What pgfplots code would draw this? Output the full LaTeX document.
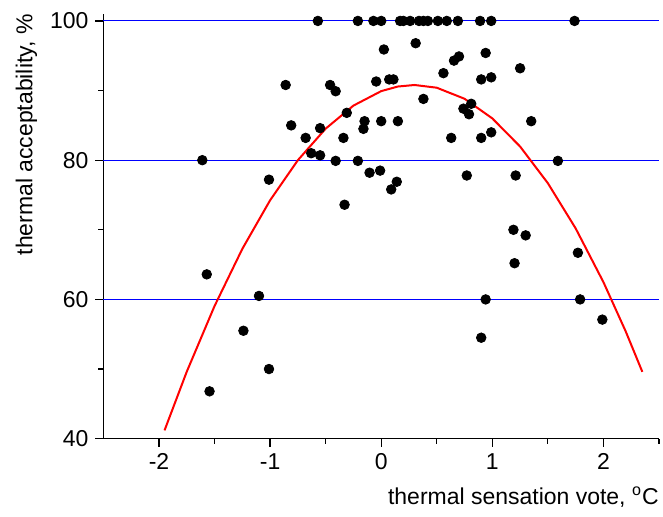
\documentclass[border=0pt]{standalone}
\usepackage{fontspec}
\setmainfont{Liberation Sans}
\usepackage{pgfplots}
\pgfplotsset{compat=1.18}
\begin{document}
\begin{tikzpicture}
\begin{axis}[
  scale only axis, width=278pt, height=212.5pt,
  xmin=-2.5, xmax=2.5, ymin=40, ymax=101,
  axis lines=left, axis line style={-, line width=0.6pt},
  xtick={-2,-1,0,1,2}, xticklabels={-2,-1,0,1,2},
  minor xtick={-1.5,-0.5,0.5,1.5,2.5},
  ytick={40}, yticklabels={40},
  extra y ticks={60,80,100}, extra y tick labels={60,80,100},
  extra y tick style={grid=major},
  minor ytick={50,70,90},
  tick align=outside, major tick length=4pt, minor tick length=2.5pt,
  tick style={black, line width=0.6pt},
  grid style={blue, line width=0.5pt},
  tick label style={font=\fontsize{11.5}{14}\selectfont},
  label style={font=\fontsize{11.5}{14}\selectfont},
  /pgf/number format/assume math mode=true,
  xlabel={thermal sensation vote, \textsuperscript{o}C},
  xlabel style={at={([yshift=-24pt]rel axis cs:1,0)}, anchor=north east, inner sep=0pt},
  ylabel={thermal acceptability, \%},
  ylabel style={at={([xshift=-33pt]rel axis cs:0,1)}, anchor=south east, inner sep=0pt},
]
\addplot[red, line width=1pt] coordinates {
(-1.95,41.19) (-1.75,49.62) (-1.5,59.05) (-1.25,67.26) (-1.0,74.24)
(-0.75,80.0) (-0.5,84.53) (-0.25,87.84) (0,89.92) (0.15,90.58)
(0.3,90.8) (0.5,90.41) (0.75,88.82) (1.0,86.0) (1.25,81.96)
(1.5,76.69) (1.75,70.2) (2.0,62.48) (2.2,55.42) (2.35,49.6)
};
\addplot[only marks, mark=*, mark size=2.4pt, black] coordinates {
(-1.61,80.0) (-1.57,63.6) (-1.545,46.8) (-1.24,55.5) (-1.10,60.5)
(-1.01,50.0) (-1.01,77.2) (-0.86,90.8) (-0.81,85.0) (-0.68,83.2)
(-0.63,81.0) (-0.55,80.7) (-0.55,84.6) (-0.57,100) (-0.46,90.8)
(-0.41,89.9) (-0.41,79.9) (-0.33,73.6) (-0.34,83.2) (-0.31,86.8)
(-0.21,79.9) (-0.21,100) (-0.16,84.5) (-0.15,85.6) (-0.105,78.2)
(-0.07,100) (-0.045,91.3) (0.0,100) (-0.01,78.5) (0.0,85.6)
(0.024,95.9) (0.072,91.6) (0.11,91.6) (0.09,75.8) (0.14,76.9)
(0.15,85.6) (0.17,100) (0.20,100) (0.26,100) (0.34,100)
(0.38,100) (0.42,100) (0.51,100) (0.59,100) (0.69,100)
(0.89,100) (0.99,100) (1.74,100) (0.31,96.8) (0.38,88.8)
(0.56,92.5) (0.655,94.3) (0.70,94.9) (0.94,95.4) (1.25,93.2)
(0.90,91.6) (0.99,91.9) (0.81,88.1) (0.74,87.4) (0.79,86.6)
(1.35,85.6) (0.63,83.2) (0.90,83.2) (0.99,84.0) (0.77,77.8)
(1.21,77.8) (1.59,79.9) (1.19,70.0) (1.30,69.2) (1.20,65.2)
(1.77,66.7) (0.94,60.0) (1.79,60.0) (0.90,54.5) (1.99,57.1)
};
\end{axis}
\pgfresetboundingbox
\useasboundingbox ([xshift=-51.75pt,yshift=-39pt]current axis.south west) rectangle ([xshift=2pt,yshift=7pt]current axis.north east);
\end{tikzpicture}
\end{document}
